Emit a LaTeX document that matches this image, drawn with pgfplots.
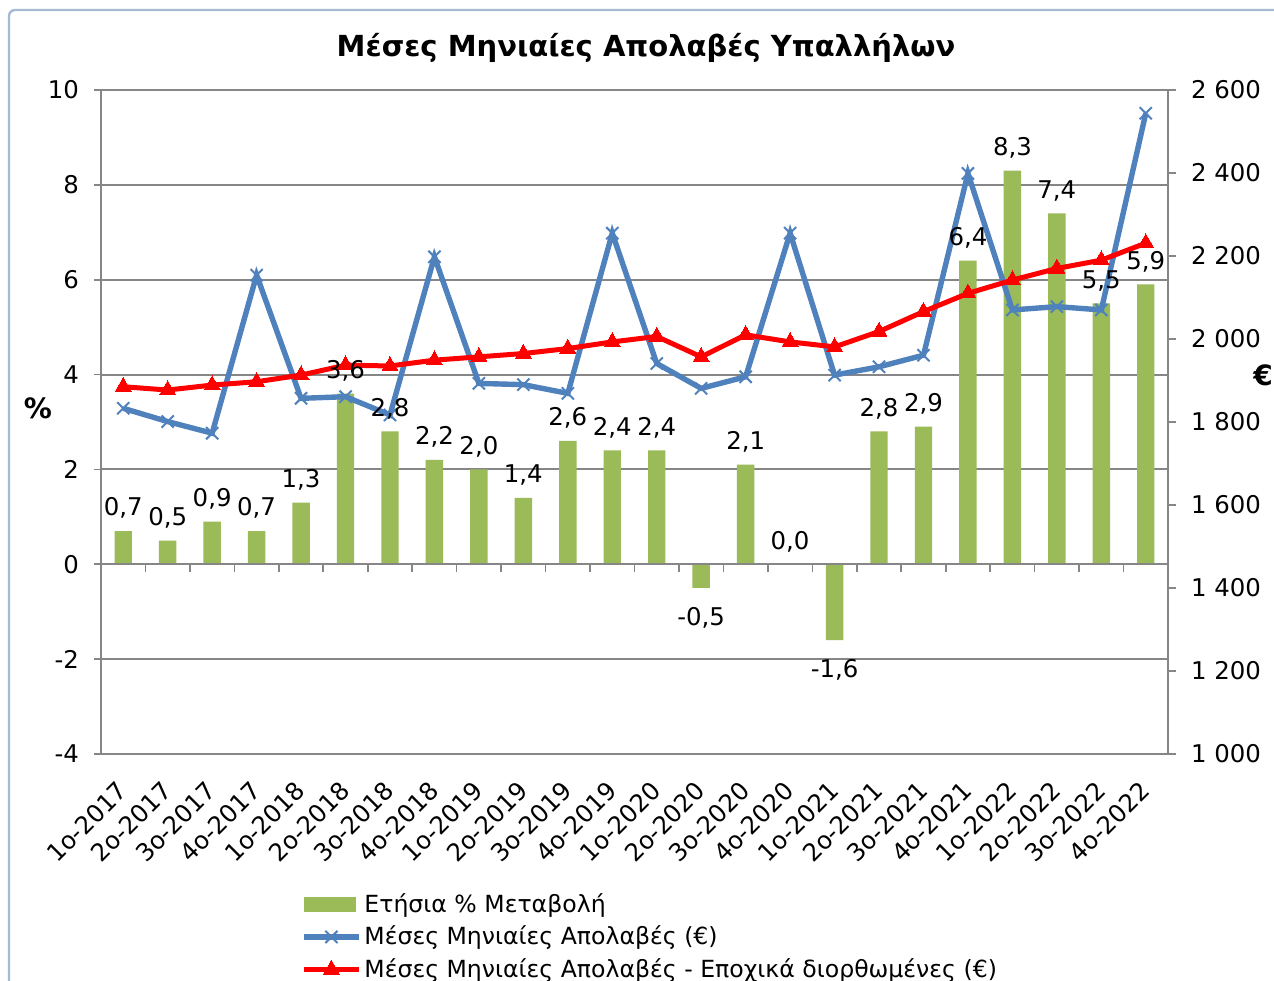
\documentclass[border=0pt]{standalone}
\usepackage{fontspec}
\setmainfont{DejaVu Sans}
\usepackage{pgfplots}
\pgfplotsset{compat=1.18}
\usepackage{pgfplotstable}
\definecolor{barg}{HTML}{9BBB59}
\definecolor{lblue}{HTML}{4F81BD}
\definecolor{gridc}{HTML}{868686}
\definecolor{frame}{HTML}{A7BAD4}

\pgfplotstableread{
idx pct eur eursa
0 0.7 1833 1885
1 0.5 1801 1877
2 0.9 1773 1889
3 0.7 2154 1897
4 1.3 1857 1913
5 3.6 1861 1937
6 2.8 1817 1935
7 2.2 2198 1949
8 2.0 1893 1957
9 1.4 1890 1965
10 2.6 1869 1977
11 2.4 2255 1993
12 2.4 1941 2006
13 -0.5 1881 1957
14 2.1 1909 2010
15 0.0 2255 1993
16 -1.6 1913 1981
17 2.8 1933 2018
18 2.9 1961 2066
19 6.4 2399 2110
20 8.3 2070 2142
21 7.4 2078 2170
22 5.5 2070 2190
23 5.9 2544 2231
}\data

\pgfplotsset{common/.style={
  at={(50.5pt,113pt)}, anchor=south west,
  scale only axis, width=533.5pt, height=332pt,
  xmin=-0.5, xmax=23.5}}

\begin{document}
\begin{tikzpicture}
\useasboundingbox (0,0) rectangle (637pt,490pt);
\fill[white] (0,0) rectangle (637pt,490pt);
\draw[frame, line width=1.2pt, rounded corners=3pt] (4.5pt,-20pt) -- (4.5pt,485pt) -- (660pt,485pt);
\node[font=\fontsize{14.5}{17}\selectfont\bfseries] at (323pt,466pt) {Μέσες Μηνιαίες Απολαβές Υπαλλήλων};
\node[font=\fontsize{14}{16}\selectfont\bfseries] at (19pt,286pt) {\%};
\node[font=\fontsize{14}{16}\selectfont\bfseries] at (631.5pt,302.5pt) {€};

% Left axis with bars
\begin{axis}[
  common, ymin=-4, ymax=10,
  axis line style={gridc, line width=1pt},
  ytick={-4,-2,...,10},
  yticklabels={-4,-2,0,2,4,6,8,10},
  ytick pos=left, tick align=outside,
  ytick style={gridc, line width=0.8pt},
  major tick length=3.5pt,
  yticklabel style={xshift=-4pt},
  ymajorgrids, grid style={gridc, line width=1pt},
  xtick={0,...,23},
  xticklabels={1ο-2017,2ο-2017,3ο-2017,4ο-2017,1ο-2018,2ο-2018,3ο-2018,4ο-2018,1ο-2019,2ο-2019,3ο-2019,4ο-2019,1ο-2020,2ο-2020,3ο-2020,4ο-2020,1ο-2021,2ο-2021,3ο-2021,4ο-2021,1ο-2022,2ο-2022,3ο-2022,4ο-2022},
  xtick style={draw=none},
  xticklabel style={rotate=45, anchor=north east, xshift=-5.5pt, yshift=-0.5pt},
  ticklabel style={font=\fontsize{12.2}{14}\selectfont},
  ybar, bar width=8.7pt,
]
\addplot[fill=barg, draw=none] table[x=idx, y=pct] {\data};
\end{axis}

% zero line with category ticks
\begin{axis}[
  common, ymin=-4, ymax=10,
  axis x line=middle, axis y line=none,
  axis line style={gridc, line width=1pt, -},
  xtick={0.5,1.5,...,22.5}, xticklabels={},
  tick align=outside, major tick length=4pt,
  xtick style={gridc, line width=0.8pt},
]
\end{axis}

% Right axis with lines
\begin{axis}[
  common, ymin=1000, ymax=2600,
  axis x line=none, axis y line*=right,
  axis line style={gridc, line width=1pt, -},
  ytick={1000,1200,...,2600},
  yticklabels={1 000,1 200,1 400,1 600,1 800,2 000,2 200,2 400,2 600},
  tick align=outside, major tick length=4pt,
  ytick style={gridc, line width=0.8pt},
  yticklabel style={xshift=4pt, font=\fontsize{12.2}{14}\selectfont},
  legend style={at={(0.1818,-0.199)}, anchor=north west, draw=none, fill=none,
    font=\fontsize{11.8}{13}\selectfont, row sep=2.3pt,
    nodes={inner xsep=1.5pt, inner ysep=1.5pt}},
  legend cell align=left,
  legend image code/.code={\draw[mark repeat=2,mark phase=2,#1] plot coordinates {(0cm,0cm) (0.48cm,0cm) (0.96cm,0cm)};},
]
\addlegendimage{legend image code/.code={\fill[barg] (0cm,-0.12cm) rectangle (0.9cm,0.12cm);}}
\addlegendentry{Ετήσια \% Μεταβολή}
\addplot[lblue, line width=2.7pt, mark=x, mark size=4.3pt, mark options={line width=1pt, solid}] table[x=idx, y=eur] {\data};
\addlegendentry{Μέσες Μηνιαίες Απολαβές (€)}
\addplot[red, line width=2.5pt, mark=triangle*, mark size=4.6pt, mark options={line width=0pt}] table[x=idx, y=eursa] {\data};
\addlegendentry{Μέσες Μηνιαίες Απολαβές - Εποχικά διορθωμένες (€)}
\end{axis}

% Data labels of the bars, on top of everything
\begin{axis}[
  common, ymin=-4, ymax=10, hide axis,
  ybar, bar width=8.7pt,
  nodes near coords={\pgfmathprintnumber{\pgfplotspointmeta}},
  /pgf/number format/.cd, fixed, fixed zerofill, precision=1, use comma, assume math mode=true,
  /pgfplots/.cd,
  every node near coord/.append style={font=\fontsize{12.2}{14}\selectfont, black, inner ysep=6pt},
]
\addplot[fill=none, draw=none,
  visualization depends on=rawy \as \pv,
  every node near coord/.append style={yshift={ifthenelse(\pv<0,-3.5,0)}}]
  table[x=idx, y=pct] {\data};
\end{axis}
\end{tikzpicture}
\end{document}
